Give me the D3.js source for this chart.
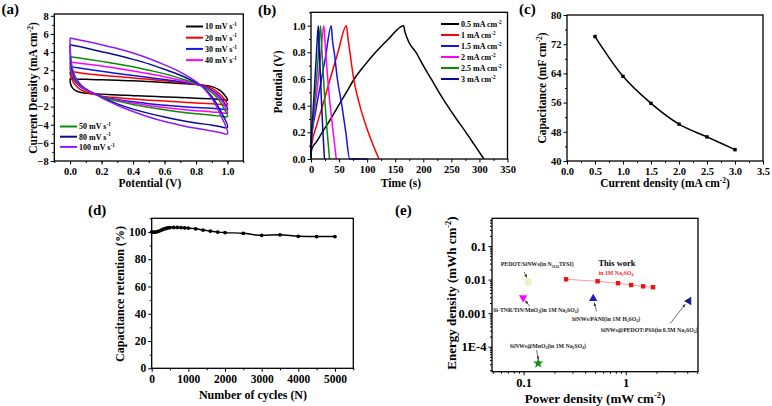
<!DOCTYPE html>
<html><head><meta charset="utf-8">
<script src="https://cdn.jsdelivr.net/npm/d3@7"></script>
<style>body{margin:0;background:#fff}</style>
</head><body>
<script>
// ---------- DATA ----------
// (a) CV curves [V, mA cm-2]: forward branch then reverse branch
const cvLabels = ["10 mV s^{-1}","20 mV s^{-1}","30 mV s^{-1}","40 mV s^{-1}","50 mV s^{-1}","80 mV s^{-1}","100 mV s^{-1}"];
const cv10 = [[0,1.1],[0.03,1.05],[0.1,1.0],[0.2,0.95],[0.3,0.9],[0.4,0.85],[0.5,0.75],[0.6,0.65],[0.7,0.55],[0.8,0.42],[0.85,0.35],[0.9,0.2],[0.95,-0.2],[0.98,-0.7],[1.0,-1.3],[0.97,-1.22],[0.9,-1.15],[0.8,-1.08],[0.7,-1.0],[0.6,-0.94],[0.5,-0.86],[0.4,-0.8],[0.3,-0.72],[0.2,-0.63],[0.12,-0.55],[0.07,-0.45],[0.035,-0.25],[0.012,0.15],[0.002,0.6],[0,1.1]];
const cv20 = [[0,1.85],[0.05,1.75],[0.1,1.62],[0.2,1.45],[0.3,1.3],[0.4,1.15],[0.5,1.0],[0.6,0.84],[0.7,0.66],[0.8,0.45],[0.85,0.3],[0.9,0.0],[0.95,-0.6],[0.98,-1.2],[1.0,-1.8],[0.95,-1.75],[0.9,-1.7],[0.8,-1.6],[0.7,-1.5],[0.6,-1.4],[0.5,-1.3],[0.4,-1.18],[0.3,-1.03],[0.2,-0.85],[0.15,-0.65],[0.1,-0.4],[0.06,-0.05],[0.03,0.45],[0.012,1.0],[0.003,1.4],[0,1.85]];
const cv30 = [[0,2.4],[0.1,2.15],[0.2,1.9],[0.3,1.65],[0.4,1.42],[0.5,1.2],[0.6,0.98],[0.7,0.74],[0.8,0.46],[0.85,0.25],[0.9,-0.2],[0.95,-0.9],[0.98,-1.6],[1.0,-2.3],[0.95,-2.25],[0.9,-2.2],[0.8,-2.1],[0.7,-2.0],[0.6,-1.85],[0.5,-1.68],[0.4,-1.48],[0.3,-1.22],[0.2,-0.88],[0.17,-0.7],[0.12,-0.35],[0.07,0.12],[0.035,0.7],[0.015,1.3],[0.004,1.85],[0,2.4]];
const cv40 = [[0,2.9],[0.1,2.7],[0.2,2.47],[0.3,2.2],[0.4,1.93],[0.5,1.62],[0.6,1.28],[0.7,0.9],[0.8,0.48],[0.85,0.2],[0.9,-0.3],[0.95,-1.1],[0.98,-1.9],[1.0,-2.7],[0.95,-2.65],[0.9,-2.6],[0.8,-2.45],[0.7,-2.3],[0.6,-2.1],[0.5,-1.88],[0.4,-1.62],[0.3,-1.3],[0.2,-0.92],[0.17,-0.7],[0.12,-0.32],[0.07,0.2],[0.035,0.85],[0.015,1.5],[0.004,2.2],[0,2.9]];
const cv50 = [[0,3.5],[0.1,3.25],[0.2,2.98],[0.3,2.7],[0.4,2.38],[0.5,2.0],[0.6,1.6],[0.7,1.1],[0.8,0.55],[0.85,0.15],[0.9,-0.45],[0.95,-1.4],[0.98,-2.3],[1.0,-3.1],[0.95,-3.05],[0.9,-2.95],[0.8,-2.8],[0.7,-2.6],[0.6,-2.35],[0.5,-2.08],[0.4,-1.78],[0.3,-1.4],[0.2,-0.95],[0.17,-0.7],[0.12,-0.3],[0.07,0.25],[0.035,0.95],[0.015,1.7],[0.004,2.5],[0,3.5]];
const cv80 = [[0,4.8],[0.1,4.45],[0.2,4.05],[0.3,3.65],[0.4,3.2],[0.5,2.7],[0.6,2.1],[0.7,1.45],[0.8,0.65],[0.85,0.05],[0.9,-0.9],[0.95,-2.3],[1.0,-4.3],[0.95,-4.2],[0.9,-4.05],[0.8,-3.8],[0.7,-3.5],[0.6,-3.15],[0.5,-2.75],[0.4,-2.28],[0.3,-1.7],[0.2,-1.0],[0.17,-0.68],[0.12,-0.28],[0.07,0.35],[0.035,1.15],[0.015,2.0],[0.004,3.1],[0,4.8]];
const cv100 = [[0,5.55],[0.1,5.2],[0.2,4.82],[0.3,4.4],[0.4,3.9],[0.5,3.3],[0.6,2.6],[0.7,1.8],[0.8,0.75],[0.85,0.0],[0.9,-1.1],[0.95,-2.7],[1.0,-5.0],[0.95,-4.85],[0.9,-4.7],[0.8,-4.4],[0.7,-4.05],[0.6,-3.65],[0.5,-3.15],[0.4,-2.55],[0.3,-1.85],[0.2,-1.02],[0.17,-0.68],[0.12,-0.3],[0.07,0.35],[0.035,1.2],[0.015,2.2],[0.004,3.5],[0,5.55]];
const cvColors = ["#000000","#ff0000","#1414e6","#ff00ff","#0a8a0a","#0a0a96","#8c1aff"];

// (b) GCD curves [time s, potential V]
const gcdLabels = ["0.5 mA cm^{-2}","1 mA cm^{-2}","1.5 mA cm^{-2}","2 mA cm^{-2}","2.5 mA cm^{-2}","3 mA cm^{-2}"];
const gcd05 = [[0,0],[1,0.07],[10,0.13],[20,0.2],[35,0.3],[49,0.4],[63,0.5],[77,0.6],[95,0.7],[115,0.8],[138,0.9],[165,1.0],[167,0.96],[170,0.92],[175,0.87],[187,0.8],[200,0.7],[214,0.6],[228,0.5],[243,0.4],[259,0.3],[276,0.2],[292,0.1],[308,0]];
const gcd1 = [[0,0],[1,0.1],[10,0.25],[22,0.42],[34,0.6],[48,0.8],[63,1.0],[66,0.9],[70,0.78],[76,0.6],[87,0.4],[102,0.2],[121,0]];
const gcd15 = [[0,0],[0.5,0.12],[8,0.35],[17,0.56],[26,0.77],[36,1.0],[38,0.9],[42,0.78],[47,0.6],[55,0.4],[62,0.2],[69,0],[100,0]];
const gcd2 = [[0,0],[0.5,0.12],[6,0.35],[12,0.56],[17,0.77],[23,1.0],[25,0.88],[28,0.7],[33,0.45],[39,0.22],[45,0]];
const gcd25 = [[0,0],[0.5,0.12],[5,0.35],[9,0.56],[13,0.77],[17,1.0],[18.5,0.88],[21,0.7],[24.5,0.45],[28.5,0.22],[33,0]];
const gcd3 = [[0,0],[0.5,0.12],[3.5,0.35],[6.5,0.56],[9.5,0.77],[13,1.0],[14,0.88],[16,0.7],[18.5,0.45],[21,0.22],[24,0]];
const gcdColors = ["#000000","#ff0000","#1414e6","#ff00ff","#0a8a0a","#0a0a96"];

// (c) capacitance vs current density
const capCurrent = [0.5,1.0,1.5,2.0,2.5,3.0];
const capValue = [74.1,63.2,55.8,50.1,46.6,43.1];

// (d) cycling stability
const cycleN = [0,50,100,150,200,250,300,350,400,450,500,600,700,800,900,1000,1200,1400,1600,1800,2000,2500,3000,3500,4000,4500,5000];
const retention = [100,99.8,99.9,100.2,100.6,101.2,101.8,102.3,102.7,103,103.2,103.3,103.3,103.2,103,102.8,102.3,101.4,100.6,99.9,99.5,99.0,97.5,97.9,96.8,96.6,96.6];

// (e) Ragone plot
const workPower = [0.26,0.53,0.84,1.13,1.48,1.85];
const workEnergy = [0.0102,0.0089,0.0078,0.0069,0.0063,0.0059];
const refLabels = ["PEDOT/SiNWs(in N_{1114}TFSI)","Si-TNR/TiN/MnO_{2}(in 1M Na_{2}SO_{4})","SiNWs/PANI(in 1M H_{2}SO_{4})","SiNWs@PEDOT:PSS(in 0.5M Na_{2}SO_{4})","SiNWs@MnO_{2}(in 1M Na_{2}SO_{4})"];
const refPower = [0.111,0.099,0.48,4.15,0.139];
const refEnergy = [0.0085,0.0029,0.0027,0.0023,0.000032];
const refColors = ["#e6f3c4","#ff00ff","#1a1ad8","#1c1c8c","#138a13"];

// ---------- DRAWING ----------
const FONT = "'Liberation Serif','Times New Roman',serif";
const svg = d3.select("body").append("svg").attr("width",772).attr("height",406);
svg.append("rect").attr("width",772).attr("height",406).attr("fill","#fff");
const defs = svg.append("defs");
defs.append("marker").attr("id","arr").attr("viewBox","0 0 10 10").attr("refX",9).attr("refY",5)
  .attr("markerWidth",5).attr("markerHeight",5).attr("orient","auto")
  .append("path").attr("d","M0,1L10,5L0,9Z").attr("fill","#333");

function rich(sel, str, fs) {
  const parts = str.split(/(\^\{[^}]*\}|_\{[^}]*\})/);
  let shift = 0;
  parts.forEach(p => {
    if (!p) return;
    let s = 0, t = p, size = fs;
    if (p.startsWith("^{")) { s = -0.38*fs; t = p.slice(2,-1); size = fs*0.65; }
    else if (p.startsWith("_{")) { s = 0.22*fs; t = p.slice(2,-1); size = fs*0.65; }
    sel.append("tspan").attr("dy", s - shift).attr("font-size", size).text(t);
    shift = s;
  });
  return sel;
}
function label(x, y, str, fs, opts={}) {
  const t = svg.append("text").attr("font-family",FONT).attr("font-weight","bold")
    .attr("font-size",fs).attr("fill",opts.fill||"#000")
    .attr("text-anchor",opts.anchor||"start");
  if (opts.rotate) {
    t.attr("transform",`translate(${x},${y}) rotate(-90)`).attr("y",0.35*fs);
  } else {
    t.attr("x",x).attr("y",y + (opts.center?0.35*fs:0));
  }
  rich(t, str, fs);
  return t;
}
function axes(x, y, c) {
  const g = svg.append("g");
  const [yb, yt] = y.range(); const [xl, xr] = x.range();
  const style = s => { s.select(".domain").remove();
    s.selectAll("line").attr("stroke","#000").attr("stroke-width",1);
    s.selectAll("text").attr("font-family",FONT).attr("font-weight","bold").attr("font-size",c.fs).attr("fill","#000"); };
  g.append("g").attr("transform",`translate(0,${yb})`)
    .call(d3.axisBottom(x).tickValues(c.xMinor).tickFormat("").tickSize(2)).call(style);
  g.append("g").attr("transform",`translate(0,${yb})`)
    .call(d3.axisBottom(x).tickValues(c.xTicks).tickFormat(c.xFmt).tickSize(3.5).tickPadding(3)).call(style);
  g.append("g").attr("transform",`translate(${xl},0)`)
    .call(d3.axisLeft(y).tickValues(c.yMinor).tickFormat("").tickSize(2)).call(style);
  g.append("g").attr("transform",`translate(${xl},0)`)
    .call(d3.axisLeft(y).tickValues(c.yTicks).tickFormat(c.yFmt).tickSize(3.5).tickPadding(2)).call(style);
  g.append("rect").attr("x",xl).attr("y",yt).attr("width",xr-xl).attr("height",yb-yt)
    .attr("fill","none").attr("stroke","#000").attr("stroke-width",1.3);
}
const rng = (a,b,s) => d3.range(a, b + s/2, s);

// ===== (a) =====
{
  const x = d3.scaleLinear([-0.1,1.1],[54.3,243.3]);
  const y = d3.scaleLinear([-8,8.2],[161,14]);
  defs.append("clipPath").attr("id","ca").append("rect")
    .attr("x",54.3).attr("y",14).attr("width",189).attr("height",147);
  const line = d3.line().x(d=>x(d[0])).y(d=>y(d[1])).curve(d3.curveCatmullRom.alpha(0.5));
  [cv10,cv20,cv30,cv40,cv50,cv80,cv100].forEach((s,i)=>{
    svg.append("path").attr("d",line(s)).attr("fill","none").attr("stroke",cvColors[i])
      .attr("stroke-width",1.5).attr("clip-path","url(#ca)");
  });
  axes(x,y,{fs:10.5,xTicks:rng(0,1,0.2),xMinor:rng(-0.1,1.1,0.1),xFmt:d3.format(".1f"),
    yTicks:rng(-8,8,2),yMinor:rng(-7,7,2),yFmt:d3.format("d")});
  [0,1,2,3].forEach((i,k)=>{
    const yy = 26.5 + k*11.2;
    svg.append("line").attr("x1",186).attr("x2",203).attr("y1",yy).attr("y2",yy).attr("stroke",cvColors[i]).attr("stroke-width",2);
    label(205, yy+2.8, cvLabels[i], 8);
  });
  [4,5,6].forEach((i,k)=>{
    const yy = 126.5 + k*10.2;
    svg.append("line").attr("x1",60).attr("x2",77).attr("y1",yy).attr("y2",yy).attr("stroke",cvColors[i]).attr("stroke-width",2);
    label(79, yy+2.8, cvLabels[i], 8);
  });
  label(1.5, 14, "(a)", 15);
  label(33, 88, "Current Density (mA cm^{-2})", 11.5, {rotate:true, anchor:"middle"});
  label(150, 183, "Potential (V)", 11.5, {center:true, anchor:"middle"});
}

// ===== (b) =====
{
  const x = d3.scaleLinear([0,350],[311,507.5]);
  const y = d3.scaleLinear([0,1.1],[159,12.3]);
  const line = d3.line().x(d=>x(d[0])).y(d=>y(d[1])).curve(d3.curveMonotoneX);
  [gcd05,gcd1,gcd15,gcd2,gcd25,gcd3].forEach((s,i)=>{
    svg.append("path").attr("d",line(s)).attr("fill","none").attr("stroke",gcdColors[i]).attr("stroke-width",1.5);
  });
  axes(x,y,{fs:10.5,xTicks:rng(0,350,50),xMinor:rng(25,325,50),xFmt:d3.format("d"),
    yTicks:rng(0,1,0.2),yMinor:rng(0.1,1.1,0.2),yFmt:d3.format(".1f")});
  gcdLabels.forEach((t,i)=>{
    const yy = 24 + i*11;
    svg.append("line").attr("x1",441).attr("x2",459).attr("y1",yy).attr("y2",yy).attr("stroke",gcdColors[i]).attr("stroke-width",2);
    label(461, yy+2.8, t, 8);
  });
  label(258, 15, "(b)", 15);
  label(278, 82, "Potential (V)", 11.5, {rotate:true, anchor:"middle"});
  label(401, 183, "Time (s)", 11.5, {center:true, anchor:"middle"});
}

// ===== (c) =====
{
  const x = d3.scaleLinear([0,3.5],[567,763]);
  const y = d3.scaleLinear([40,80],[161,15]);
  const pts = capCurrent.map((c,i)=>[c,capValue[i]]);
  svg.append("path").attr("d",d3.line().x(d=>x(d[0])).y(d=>y(d[1])).curve(d3.curveMonotoneX)(pts))
    .attr("fill","none").attr("stroke","#000").attr("stroke-width",1.5);
  svg.selectAll(null).data(pts).join("rect").attr("x",d=>x(d[0])-1.7).attr("y",d=>y(d[1])-1.7)
    .attr("width",3.4).attr("height",3.4).attr("fill","#000");
  axes(x,y,{fs:10.5,xTicks:rng(0,3.5,0.5),xMinor:rng(0.25,3.25,0.5),xFmt:d3.format(".1f"),
    yTicks:rng(40,80,8),yMinor:rng(44,76,8),yFmt:d3.format("d")});
  label(519, 14, "(c)", 15);
  label(542, 88, "Capacitance (mF cm^{-2})", 11.5, {rotate:true, anchor:"middle"});
  label(665, 183, "Current density (mA cm^{-2})", 11.5, {center:true, anchor:"middle"});
}

// ===== (d) =====
{
  const x = d3.scaleLinear([0,5500],[151.7,353.3]);
  const y = d3.scaleLinear([0,110],[368.3,218.3]);
  const pts = cycleN.map((c,i)=>[c,retention[i]]);
  svg.append("path").attr("d",d3.line().x(d=>x(d[0])).y(d=>y(d[1])).curve(d3.curveMonotoneX)(pts))
    .attr("fill","none").attr("stroke","#000").attr("stroke-width",1.4);
  svg.selectAll(null).data(pts).join("circle").attr("cx",d=>x(d[0])).attr("cy",d=>y(d[1]))
    .attr("r",1.9).attr("fill","#000");
  axes(x,y,{fs:11.5,xTicks:rng(0,5000,1000),xMinor:rng(500,5500,1000),xFmt:d3.format("d"),
    yTicks:rng(0,100,20),yMinor:rng(10,110,20),yFmt:d3.format("d")});
  label(88, 215, "(d)", 15);
  label(120, 294, "Capacitance retention (%)", 12, {rotate:true, anchor:"middle"});
  label(253, 395, "Number of cycles (N)", 12, {center:true, anchor:"middle"});
}

// ===== (e) =====
{
  const x = d3.scaleLog([0.049,5.1],[492,698]);
  const y = d3.scaleLog([1.8e-5,0.67],[371.7,218.3]);
  const xMinor = [0.05,0.06,0.07,0.08,0.09,0.2,0.3,0.4,0.5,0.6,0.7,0.8,0.9,2,3,4,5];
  const yMinor = [];
  [1e-5,1e-4,1e-3,1e-2,1e-1].forEach(d=>{ for(let k=2;k<10;k++){ const v=d*k; if(v>=1.8e-5 && v<=0.67) yMinor.push(v);} });
  axes(x,y,{fs:12.5,xTicks:[0.1,1],xMinor:xMinor,xFmt:d=>d===0.1?"0.1":"1",
    yTicks:[1e-4,1e-3,1e-2,1e-1],yMinor:yMinor,yFmt:d=>({1e-4:"1E-4",1e-3:"0.001",1e-2:"0.01",1e-1:"0.1"})[d]});
  const pts = workPower.map((p,i)=>[p,workEnergy[i]]);
  svg.append("path").attr("d",d3.line().x(d=>x(d[0])).y(d=>y(d[1]))(pts))
    .attr("fill","none").attr("stroke","#ff9a9a").attr("stroke-width",1);
  svg.selectAll(null).data(pts).join("rect").attr("x",d=>x(d[0])-2.2).attr("y",d=>y(d[1])-2.2)
    .attr("width",4.4).attr("height",4.4).attr("fill","#f21010");
  label(617, 265.5, "This work", 8.5, {anchor:"middle"});
  label(616, 274.5, "in 1M Na_{2}SO_{4}", 5.8, {anchor:"middle", fill:"#ff1a1a"});
  const sym = [d3.symbolCircle, d3.symbolTriangle, d3.symbolTriangle, d3.symbolTriangle, d3.symbolStar];
  const rot = [0,180,0,-90,0];
  const size = [44,30,30,30,34];
  const lblOff = [[9,-17.5],[12.7,12],[12.7,20],[-39.7,28.6],[9.7,-17.3]];
  const arrows = [[[-4,-10],[-1.6,-4.5]],[[6.7,8.7],[2,3]],[[3.4,12.7],[1,4.2]],[[-18.7,22.6],[-3.7,3.3]],[[-1.6,-13.3],[0,-3.8]]];
  refPower.forEach((p,i)=>{
    const px = x(p), py = y(refEnergy[i]);
    svg.append("path").attr("d",d3.symbol().type(sym[i]).size(size[i])())
      .attr("transform",`translate(${px},${py}) rotate(${rot[i]})`).attr("fill",refColors[i]);
    label(px+lblOff[i][0], py+lblOff[i][1]+2, refLabels[i], 5.8, {anchor:"middle", fill:"#222"});
    const a = arrows[i];
    svg.append("line").attr("x1",px+a[0][0]).attr("y1",py+a[0][1]).attr("x2",px+a[1][0]).attr("y2",py+a[1][1])
      .attr("stroke","#333").attr("stroke-width",0.7).attr("marker-end","url(#arr)");
  });
  label(395, 215, "(e)", 15);
  label(451, 293, "Energy density (mWh cm^{-2})", 13, {rotate:true, anchor:"middle"});
  label(595, 398, "Power density (mW cm^{-2})", 13, {center:true, anchor:"middle"});
}
</script>
</body></html>
